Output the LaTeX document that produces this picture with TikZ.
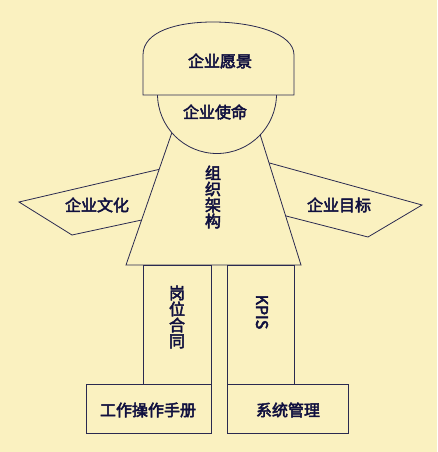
\documentclass[tikz,border=0pt]{standalone}
\usepackage{fontspec}
\newfontfamily\cjk[FakeBold=3]{Noto Sans CJK SC}
\definecolor{bg}{HTML}{FAF1C0}
\definecolor{ink}{HTML}{10103F}
\definecolor{edge}{HTML}{2A2A50}
\tikzset{
  part/.style={draw=edge, fill=bg, line width=0.8pt},
  lbl/.style={text=ink, font=\cjk\fontsize{16}{16}\selectfont, inner sep=0pt},
  vlbl/.style={lbl, align=center}
}
\begin{document}
\begin{tikzpicture}[x=1pt,y=-1pt]
\fill[bg] (0,0) rectangle (437,452);
\useasboundingbox (0,0) rectangle (437,452);
% wings
\draw[part] (19,202) -- (165,168) -- (165,215) -- (72,235) -- cycle;
\draw[part] (422,205) -- (255,159) -- (255,208) -- (368,237) -- cycle;
% body trapezoid
\draw[part] (178,115) -- (126,265) -- (301,265) -- (254,115) -- cycle;
% legs
\draw[part] (143,265) rectangle (211,384);
\draw[part] (227,265) rectangle (294,384);
% feet
\draw[part] (86,384) rectangle (211,433);
\draw[part] (227,384) rectangle (348,433);
% head
\draw[part] (217,94) circle[radius=59.5];
% cap
\draw[part] (143,95) -- (143,55) .. controls (143,31) and (178,22) .. (213,22)
  .. controls (252,22) and (294,33) .. (294,55) -- (294,95) -- cycle;
% labels
\node[lbl] (vision) at (220,61) {企业愿景};
\node[lbl] (mission) at (215,112) {企业使命};
\node[vlbl] (org) at (213,197) {组\\织\\架\\构};
\node[lbl] (culture) at (97,205) {企业文化};
\node[lbl] (goal) at (339,205) {企业目标};
\node[vlbl] (contract) at (177,317) {岗\\位\\合\\同};
\node[lbl, rotate=-90] (kpis) at (262,312) {KPIS};
\node[lbl] (manual) at (148,410) {工作操作手册};
\node[lbl] (system) at (288,410) {系统管理};
\end{tikzpicture}
\end{document}
